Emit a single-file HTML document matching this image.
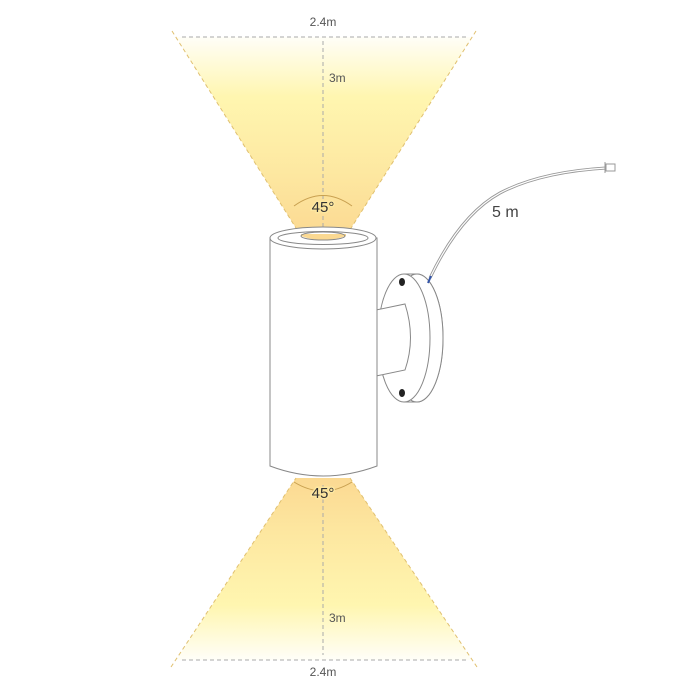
<!DOCTYPE html>
<html><head><meta charset="utf-8"><style>html,body{margin:0;padding:0;background:#fff}svg{display:block}</style></head>
<body>
<svg width="700" height="700" viewBox="0 0 700 700" xmlns="http://www.w3.org/2000/svg" font-family="Liberation Sans, DejaVu Sans, sans-serif">
<defs>
<linearGradient id="gt" x1="0" y1="0" x2="0" y2="1">
<stop offset="0" stop-color="#fffef8"/><stop offset="0.3" stop-color="#fff6b0"/><stop offset="0.7" stop-color="#fde7a0"/><stop offset="1" stop-color="#fbd992"/>
</linearGradient>
<linearGradient id="gb" x1="0" y1="1" x2="0" y2="0">
<stop offset="0" stop-color="#fffef8"/><stop offset="0.3" stop-color="#fff6b0"/><stop offset="0.7" stop-color="#fde7a0"/><stop offset="1" stop-color="#fbd992"/>
</linearGradient>
</defs>
<polygon points="176,37 472,37 346,236 301,236" fill="url(#gt)"/>
<line x1="172" y1="31" x2="301" y2="236" stroke="#e0c070" stroke-width="1" stroke-dasharray="4,3"/>
<line x1="476" y1="31" x2="346" y2="236" stroke="#e0c070" stroke-width="1" stroke-dasharray="4,3"/>
<line x1="182" y1="37" x2="466" y2="37" stroke="#aaa" stroke-width="1" stroke-dasharray="4,3"/>
<line x1="323" y1="41" x2="323" y2="236" stroke="#aaa" stroke-width="1" stroke-dasharray="4,3"/>
<path d="M294,206 Q323,185 352,206" fill="none" stroke="#c8a050" stroke-width="1"/>
<text x="323" y="26" font-size="12" fill="#555" text-anchor="middle">2.4m</text>
<text x="329" y="82" font-size="12" fill="#555">3m</text>
<text x="323" y="212" font-size="15" fill="#333" text-anchor="middle" stroke="#fde7a0" stroke-width="3" paint-order="stroke">45°</text>
<polygon points="176,660 472,660 350,478 296,478" fill="url(#gb)"/>
<line x1="171" y1="667" x2="296" y2="478" stroke="#e0c070" stroke-width="1" stroke-dasharray="4,3"/>
<line x1="477" y1="667" x2="350" y2="478" stroke="#e0c070" stroke-width="1" stroke-dasharray="4,3"/>
<line x1="182" y1="660" x2="466" y2="660" stroke="#aaa" stroke-width="1" stroke-dasharray="4,3"/>
<line x1="323" y1="485" x2="323" y2="655" stroke="#aaa" stroke-width="1" stroke-dasharray="4,3"/>
<path d="M294,482 Q323,500 352,482" fill="none" stroke="#c8a050" stroke-width="1"/>
<text x="323" y="676" font-size="12" fill="#555" text-anchor="middle">2.4m</text>
<text x="329" y="622" font-size="12" fill="#555">3m</text>
<text x="323" y="498" font-size="15" fill="#333" text-anchor="middle" stroke="#fde7a0" stroke-width="3" paint-order="stroke">45°</text>
<!-- disc back/thickness -->
<path d="M404,274 L417,274 A26,64 0 0 1 417,402 L404,402 Z" fill="#fff" stroke="#888" stroke-width="1"/>
<ellipse cx="417" cy="338" rx="26" ry="64" fill="#fff" stroke="#888" stroke-width="1"/>
<ellipse cx="404" cy="338" rx="26" ry="64" fill="#fff" stroke="#888" stroke-width="1"/>
<line x1="404" y1="274" x2="417" y2="274" stroke="#888"/>
<line x1="404" y1="402" x2="417" y2="402" stroke="#888"/>
<path d="M376,310 L405,304 Q416,338 405,370 L376,376" fill="#fff" stroke="#888" stroke-width="1"/>
<ellipse cx="402" cy="282" rx="3" ry="4" fill="#222"/>
<ellipse cx="402" cy="393" rx="3" ry="4" fill="#222"/>
<path d="M430,278 Q460,215 500,193 Q540,172 606,168" fill="none" stroke="#999" stroke-width="3"/>
<path d="M430,278 Q460,215 500,193 Q540,172 606,168" fill="none" stroke="#fff" stroke-width="1.2"/>
<line x1="431" y1="276" x2="428" y2="283" stroke="#3355aa" stroke-width="2"/>
<rect x="606" y="164" width="9" height="7" fill="#fff" stroke="#999" stroke-width="1"/>
<line x1="605" y1="162" x2="605" y2="173" stroke="#999"/>
<text x="492" y="217" font-size="16" fill="#444">5 m</text>
<path d="M270,238 L270,466 Q323,486 377,466 L377,238 Z" fill="#fff" stroke="#888" stroke-width="1"/>
<ellipse cx="323" cy="238" rx="53" ry="11" fill="#fff" stroke="#888" stroke-width="1"/>
<ellipse cx="323" cy="238" rx="45" ry="6.5" fill="#fff" stroke="#888" stroke-width="1"/>
<path d="M301,234 L346,234 L346,236 Q323,244 301,236 Z" fill="#fbd992"/>
<ellipse cx="323" cy="236" rx="22" ry="4" fill="none" stroke="#888" stroke-width="1"/>
</svg>
</body></html>
